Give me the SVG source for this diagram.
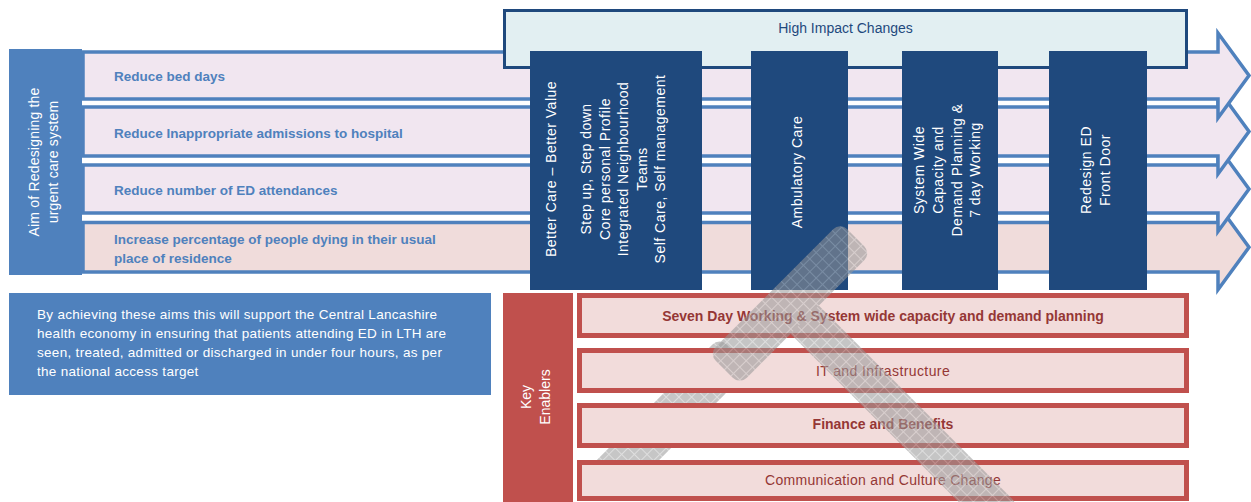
<svg xmlns="http://www.w3.org/2000/svg" width="1251" height="502" viewBox="0 0 1251 502">
<defs>
<style>
.row{fill:#F1E6F0;stroke:#4F81BD;stroke-width:3.5;stroke-linejoin:miter}
.row4{fill:#F0DCDB}
.rowtxt{font-family:"Liberation Sans",Arial,sans-serif;font-size:13.5px;font-weight:bold;fill:#4F81BD}
.wtxt{font-family:"Liberation Sans",Arial,sans-serif;font-size:14px;fill:#FFFFFF;letter-spacing:0.5px}
.col{fill:#1F497D}
.para{font-family:"Liberation Sans",Arial,sans-serif;font-size:13.5px;fill:#FFFFFF;letter-spacing:0.3px}
.enb{fill:#F2DCDB;stroke:#C0504D;stroke-width:5}
.etxt{font-family:"Liberation Sans",Arial,sans-serif;font-size:14px;fill:#953735;text-anchor:middle}
.mark{fill:url(#hatch)}
</style>
<pattern id="hatch" width="9" height="9" patternUnits="userSpaceOnUse">
<rect width="9" height="9" fill="#979797"/>
<path d="M0 0.5H9M0.5 0V9" stroke="#C4C4C4" stroke-width="1"/>
</pattern>
<clipPath id="gaps">
<rect x="573" y="338" width="620" height="10"/>
<rect x="573" y="393" width="620" height="10"/>
<rect x="573" y="448" width="620" height="12"/>
</clipPath>
</defs>

<g id="aims-arrows">
<g id="aim4"><path class="row row4" d="M83,222.5 H1218 V204.75 L1249,247.25 L1218,289.75 V272 H83 Z"/>
<text class="rowtxt" x="114" y="244">Increase percentage of people dying in their usual</text>
<text class="rowtxt" x="114" y="263">place of residence</text></g>
<g id="aim3"><path class="row" d="M83,165 H1218 V146.5 L1249,189 L1218,231.5 V213 H83 Z"/>
<text class="rowtxt" x="114" y="195">Reduce number of ED attendances</text></g>
<g id="aim2"><path class="row" d="M83,107 H1218 V89 L1249,131.5 L1218,174 V156 H83 Z"/>
<text class="rowtxt" x="114" y="138">Reduce Inappropriate admissions to hospital</text></g>
<g id="aim1"><path class="row" d="M83,52 H1218 V33 L1249,75.5 L1218,118 V99 H83 Z"/>
<text class="rowtxt" x="114" y="80.5">Reduce bed days</text></g>
</g>

<g id="aim-box">
<rect x="9" y="49" width="73" height="226" fill="#4F81BD"/>
<text class="wtxt" text-anchor="middle" transform="translate(39,162) rotate(-90)" style="letter-spacing:0.2px">Aim of Redesigning the</text>
<text class="wtxt" text-anchor="middle" transform="translate(58,162) rotate(-90)" style="letter-spacing:0.2px">urgent care system</text>
</g>

<g id="high-impact">
<rect x="504.5" y="10.5" width="682" height="57" fill="#E2EFF2" stroke="#1F497D" stroke-width="3"/>
<text x="845.5" y="33" text-anchor="middle" font-family="Liberation Sans, Arial, sans-serif" font-size="14" fill="#1F497D">High Impact Changes</text>
</g>

<g id="col-better-care">
<rect class="col" x="530" y="51" width="172" height="239"/>
<g class="wtxt" text-anchor="middle">
<text transform="translate(556,169) rotate(-90)">Better Care – Better Value</text>
<text transform="translate(591,169) rotate(-90)">Step up, Step down</text>
<text transform="translate(609.5,169) rotate(-90)">Core personal Profile</text>
<text transform="translate(628,169) rotate(-90)">Integrated Neighbourhood</text>
<text transform="translate(646.5,169) rotate(-90)">Teams</text>
<text transform="translate(665,169) rotate(-90)">Self Care, Self management</text>
</g>
</g>
<g id="col-ambulatory">
<rect class="col" x="751" y="51" width="97" height="239"/>
<text class="wtxt" text-anchor="middle" transform="translate(801.5,172) rotate(-90)">Ambulatory Care</text>
</g>
<g id="col-system-wide">
<rect class="col" x="902" y="51" width="96" height="239"/>
<g class="wtxt" text-anchor="middle">
<text transform="translate(924,170) rotate(-90)">System Wide</text>
<text transform="translate(943,170) rotate(-90)">Capacity and</text>
<text transform="translate(961.5,170) rotate(-90)">Demand Planning &amp;</text>
<text transform="translate(980,170) rotate(-90)">7 day Working</text>
</g>
</g>
<g id="col-redesign-ed">
<rect class="col" x="1049" y="51" width="98" height="239"/>
<g class="wtxt" text-anchor="middle">
<text transform="translate(1091,170) rotate(-90)">Redesign ED</text>
<text transform="translate(1110,170) rotate(-90)">Front Door</text>
</g>
</g>

<g id="summary">
<rect x="9" y="293" width="482" height="102" fill="#4F81BD"/>
<text class="para" x="37" y="319">By achieving these aims this will support the Central Lancashire</text>
<text class="para" x="37" y="338">health economy in ensuring that patients attending ED in LTH are</text>
<text class="para" x="37" y="357">seen, treated, admitted or discharged in under four hours, as per</text>
<text class="para" x="37" y="376">the national access target</text>
</g>

<g id="key-enablers">
<rect x="503" y="293" width="70" height="209" fill="#C0504D"/>
<text class="wtxt" text-anchor="middle" transform="translate(531,397) rotate(-90)" style="letter-spacing:0">Key</text>
<text class="wtxt" text-anchor="middle" transform="translate(550,397) rotate(-90)" style="letter-spacing:0">Enablers</text>
</g>
<g id="enabler-1"><rect class="enb" x="579.5" y="295.5" width="607" height="40"/>
<text class="etxt" x="883" y="321" font-weight="bold" font-size="13">Seven Day Working &amp; System wide capacity and demand planning</text></g>
<g id="enabler-2"><rect class="enb" x="579.5" y="350.5" width="607" height="40"/>
<text class="etxt" x="883" y="376" letter-spacing="0.4">IT and Infrastructure</text></g>
<g id="enabler-3"><rect class="enb" x="579.5" y="405.5" width="607" height="40"/>
<text class="etxt" x="883" y="429" font-weight="bold">Finance and Benefits</text></g>
<g id="enabler-4"><rect class="enb" x="579.5" y="462.5" width="607" height="36"/>
<text class="etxt" x="883" y="485" letter-spacing="0.3">Communication and Culture Change</text></g>

<g id="mark-gaps" opacity="0.55" clip-path="url(#gaps)">
<rect class="mark" x="-134.5" y="-22" width="269" height="44" rx="10" transform="translate(640,448) rotate(-45)"/>
</g>

<g id="mark-front" opacity="0.55">
<rect class="mark" x="-152" y="-20" width="305" height="40" rx="10" transform="translate(897,412) rotate(45)"/>
<rect class="mark" x="-93" y="-22" width="186" height="44" rx="10" transform="translate(790,303.5) rotate(-45)"/>
</g>
</svg>
